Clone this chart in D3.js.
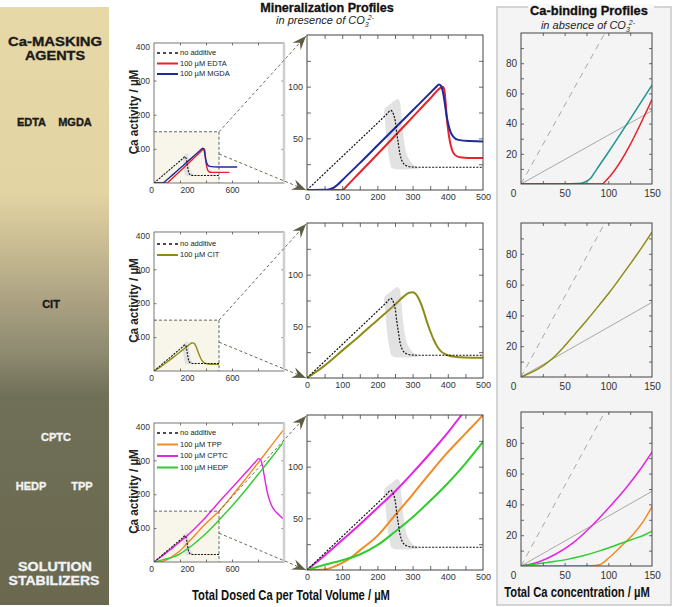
<!DOCTYPE html>
<html><head><meta charset="utf-8">
<script src="https://cdn.jsdelivr.net/npm/d3@7"></script>
<style>body{margin:0;background:#fff;} svg{display:block;font-family:"Liberation Sans",Arial,sans-serif;}</style>
</head><body><svg id="c" width="673" height="607"></svg>
<script>
// ---------- DATA ----------
// Mineralization profiles: [total dosed Ca (µM), Ca activity (µM)]
const noAdditive = [[0,0],[60,19.4],[120,38.8],[180,58.2],[225,72.8],[238,77],[246,73],[251,66],[255,55],[259,46],[264,35],[270,28],[280,24],[295,22.3],[320,22],[500,22]];
const noAdditiveBand = [[220,78],[240,84],[257,88],[263,86],[268,73],[274,52],[283,35],[295,27],[312,22],[318,21],[242,21],[237,25],[230,38],[226,50],[222,66]];
const edta = [[0,0],[95,0],[103,0.4],[110,2.8],[150,17],[200,34.6],[250,52.5],[300,70.5],[350,88.5],[380,99],[386,100],[390,97],[394,84],[397,70],[401,58],[406,47],[412,39],[420,34],[435,31.6],[460,31],[500,31],[580,31]];
const mgda = [[0,0],[50,0.2],[65,0.8],[75,2],[85,4.5],[100,9.5],[150,26],[200,43],[250,60],[300,77],[350,94],[366,99.5],[375,102],[381,100.5],[386,95],[391,85],[396,73],[402,63],[408,56],[416,51.5],[430,48.5],[460,47.3],[500,47],[640,47]];
const cit = [[0,0],[50,12],[100,26.5],[150,41],[200,56],[250,71],[275,79],[290,82.5],[300,83],[310,81],[320,75],[331,65],[340,55],[350,45.5],[360,37],[370,30.5],[380,26],[390,23.5],[400,22],[420,20.5],[450,19.8],[500,19.5]];
const tpp = [[0,0],[50,0.5],[75,3],[100,7],[125,12],[150,19],[200,33],[250,53],[300,73],[350,94],[400,114],[450,132],[500,150],[600,195],[700,243],[800,292],[900,342],[1000,392]];
const cptc = [[0,0],[50,14],[100,29],[150,44],[200,60],[250,76],[300,94],[350,113],[400,133],[450,155],[500,177],[600,219],[700,261],[780,295],[805,305],[820,302],[835,282],[850,250],[870,208],[900,170],[950,143],[1000,126]];
const hedp = [[0,0],[50,5],[100,9.5],[150,15],[200,24],[250,37],[300,51],[350,67],[400,84],[450,103],[500,124],[600,165],[700,210],[800,258],[900,306],[1000,356]];
// Ca-binding profiles: [total Ca (µM), free Ca (µM)]
const bindRef = [[0,0],[96,100]];
const bindLin = [[0,0],[150,48.5]];
const bindEDTA = [[0,0],[93,0],[96,1.5],[150,56]];
const bindMGDA = [[0,0],[50,0],[65,0.3],[72,1],[77,2.5],[80,4],[83,6.5],[87,10],[100,21],[125,43],[150,65.5]];
const bindCIT = [[0,0],[10,2.5],[26,7.6],[35,11.5],[49,19.5],[62,28],[75.6,37],[90,47],[102,55.5],[115,65.5],[129,76.5],[140,85.5],[150,94]];
const bindCPTC = [[0,0],[20,2.6],[40,7.8],[60,15.2],[80,25.5],[100,37.5],[120,50.5],[135,61.5],[150,74]];
const bindTPP = [[0,0],[75,0],[85,0.3],[91,1],[95,2.5],[98,4],[105,7.5],[114,12.4],[129,21],[140,29],[150,38.5]];
const bindHEDP = [[0,0],[20,1.5],[34,2.6],[53,4.3],[70,6.5],[91,10],[114,14.6],[130,17.8],[140,19.8],[150,22.6]];
// Legends
const legendRow1 = ["no additive","100 µM EDTA","100 µM MGDA"];
const legendRow2 = ["no additive","100 µM CIT"];
const legendRow3 = ["no additive","100 µM TPP","100 µM CPTC","100 µM HEDP"];
// Ticks
const smallXTicks = [0,200,600];
const smallYTicks = [100,200,300,400];
const midXTicks = [0,100,200,300,400,500];
const midYTicks = [50,100];
const rightXTicks = [0,50,100,150];
const rightYTicks = [20,40,60,80];
// Side labels
const groupTop = ["Ca-MASKING","AGENTS"];
const groupBottom = ["SOLUTION","STABILIZERS"];

// ---------- STYLES ----------
const C = {none:"#111", edta:"#e8222a", mgda:"#1c2a9c", mgdaBind:"#1f9593", cit:"#8e8c16", tpp:"#f28a24", cptc:"#e424e4", hedp:"#2fcc2f", ref:"#a8a8a8"};
const svg = d3.select("#c");
const defs = svg.append("defs");

const grad = defs.append("linearGradient").attr("id","side").attr("x1",0).attr("y1",0).attr("x2",0).attr("y2",1);
[[0,"#e7d8a8"],[0.31,"#e3d4a3"],[0.40,"#c9bc93"],[0.50,"#a89f80"],[0.58,"#8d8a70"],[0.65,"#706f57"],[1,"#6a6950"]]
  .forEach(([o,c])=>grad.append("stop").attr("offset",o).attr("stop-color",c));
svg.append("rect").attr("x",0).attr("y",7).attr("width",109).attr("height",598).attr("fill","url(#side)");

function sText(x,y,t,size,sx,opts){
  opts = opts||{};
  const e = svg.append("text").attr("transform",`translate(${x},${y})${opts.rot?" rotate(-90)":""} scale(${sx},1)`)
    .attr("text-anchor","middle").attr("font-size",size).attr("font-weight","bold")
    .attr("fill",opts.fill||"#111").text(t);
  if(opts.stroke) e.attr("stroke",opts.fill||"#111").attr("stroke-width",opts.stroke);
  return e;
}
function sideText(t,x,y,size,fill,sx){
  sText(x,y,t,size,sx||1,{fill,stroke:0.35});
}
sideText(groupTop[0],55,46,13.5,"#1a1a1a",1.1);
sideText(groupTop[1],55,60,13.5,"#1a1a1a",1.07);
sideText("EDTA",31.5,126,11,"#1a1a1a");
sideText("MGDA",75,126,11,"#1a1a1a");
sideText("CIT",51,308,11,"#1a1a1a");
sideText("CPTC",56,441,11,"#f2f2f2");
sideText("HEDP",31,490,11,"#f2f2f2");
sideText("TPP",82,490,11,"#f2f2f2");
sideText(groupBottom[0],55,571,13,"#f2f2f2",1.1);
sideText(groupBottom[1],54,585,13,"#f2f2f2",1.08);

svg.append("rect").attr("x",497).attr("y",7).attr("width",174).attr("height",598)
  .attr("fill","#f4f4f4").attr("stroke","#c8c8c8").attr("stroke-width",1.5);
svg.append("rect").attr("x",528).attr("y",4).attr("width",126).attr("height",5).attr("fill","#f8f8f8");

defs.append("marker").attr("id","arr").attr("viewBox","-14 -6 15 12").attr("refX",0).attr("refY",0)
  .attr("markerWidth",15).attr("markerHeight",12).attr("markerUnits","userSpaceOnUse").attr("orient","auto")
  .append("path").attr("d","M0,0 L-14,-5.5 L-9,0 L-14,5.5 Z").attr("fill","#5d5d45");

let clipN=0;
function panel(o){
  const x = d3.scaleLinear().domain(o.xd).range([o.x0,o.x1]);
  const y = d3.scaleLinear().domain(o.yd).range([o.y1,o.y0]);
  const g = svg.append("g");
  const id = "clip"+(clipN++);
  defs.append("clipPath").attr("id",id).append("rect").attr("x",o.x0).attr("y",o.y0).attr("width",o.x1-o.x0).attr("height",o.y1-o.y0);
  const plot = g.append("g").attr("clip-path",`url(#${id})`);
  return {g,x,y,plot,o};
}
function line(p,data,stroke,width,dash){
  const gen = d3.line().x(d=>p.x(d[0])).y(d=>p.y(d[1])).curve(d3.curveMonotoneX);
  const e = p.plot.append("path").datum(data).attr("d",gen).attr("fill","none").attr("stroke",stroke)
    .attr("stroke-width",width).attr("stroke-linejoin","round");
  if(dash) e.attr("stroke-dasharray",dash);
}
function band(p){
  const gen = d3.line().x(d=>p.x(d[0])).y(d=>p.y(d[1])).curve(d3.curveCatmullRomClosed.alpha(0.5));
  p.plot.append("path").datum(noAdditiveBand).attr("d",gen).attr("fill","#e2e2e2");
}
function frame(p,ticksX,ticksY,minorX,minorY,fs,pad,stroke){
  const o=p.o, g=p.g;
  const tk = (axis,tr,vals,len)=>{ const a=g.append("g").attr("transform",tr)
      .call(axis.tickValues(vals).tickSize(-len).tickFormat(""));
      a.select(".domain").remove(); a.selectAll("line").attr("stroke",stroke).attr("stroke-width",0.8); };
  tk(d3.axisBottom(p.x),`translate(0,${o.y1})`,minorX,o.tl);
  tk(d3.axisTop(p.x),`translate(0,${o.y0})`,minorX,o.tl);
  tk(d3.axisLeft(p.y),`translate(${o.x0},0)`,minorY,o.tl);
  tk(d3.axisRight(p.y),`translate(${o.x1},0)`,minorY,o.tl);
  g.append("rect").attr("x",o.x0).attr("y",o.y0).attr("width",o.x1-o.x0).attr("height",o.y1-o.y0)
    .attr("fill","none").attr("stroke",stroke).attr("stroke-width",o.fw||1);
  const ax = g.append("g").attr("transform",`translate(0,${o.y1})`).call(d3.axisBottom(p.x).tickValues(ticksX).tickSize(0).tickPadding(pad));
  ax.select(".domain").remove();
  ax.selectAll("text").attr("font-size",fs).attr("fill","#333").attr("font-family","Liberation Sans, Arial, sans-serif");
  const ay = g.append("g").attr("transform",`translate(${o.x0},0)`).call(d3.axisLeft(p.y).tickValues(ticksY).tickSize(0).tickPadding(o.ypad||4));
  ay.select(".domain").remove();
  ay.selectAll("text").attr("font-size",fs).attr("fill","#333").attr("font-family","Liberation Sans, Arial, sans-serif");
  return {ax,ay};
}
function legend(labels,colors,x,y,step){
  labels.forEach((t,i)=>{
    const yy=y+i*step;
    const l=svg.append("line").attr("x1",x).attr("x2",x+21).attr("y1",yy).attr("y2",yy).attr("stroke",colors[i]).attr("stroke-width",i===0?1.6:2);
    if(i===0) l.attr("stroke-dasharray","3,3");
    svg.append("text").attr("x",x+23).attr("y",yy).attr("dy","0.33em").attr("font-size",7.5).attr("fill","#222").text(t);
  });
}
function zoomBox(p){
  const x0=p.x(0),x1=p.x(500),y0=p.y(150),y1=p.y(0);
  p.plot.append("rect").attr("x",x0).attr("y",y0).attr("width",x1-x0).attr("height",y1-y0).attr("fill","#f8f6eb");
  return ()=>p.g.append("path").attr("d",`M${x0},${y0}H${x1}V${y1}`).attr("fill","none").attr("stroke","#555").attr("stroke-width",0.9).attr("stroke-dasharray","3,2");
}
function arrow(x1,y1,x2,y2){
  svg.append("line").attr("x1",x1).attr("y1",y1).attr("x2",x2).attr("y2",y2).attr("stroke","#6a6a58")
    .attr("stroke-width",1).attr("stroke-dasharray","3,2.5").attr("marker-end","url(#arr)");
}

const rowsSmall = [[43,183],[232,371],[423,562]];
const rowsMid = [[35,190],[223,378],[415,570]];
const rowsRight = [[33,184],[223,377],[412,566]];
const seriesMid = [
  [[edta,C.edta],[mgda,C.mgda]],
  [[cit,C.cit]],
  [[tpp,C.tpp],[cptc,C.cptc],[hedp,C.hedp]]
];
const seriesBind = [
  [[bindMGDA,C.mgdaBind],[bindEDTA,C.edta]],
  [[bindCIT,C.cit]],
  [[bindCPTC,C.cptc],[bindTPP,C.tpp],[bindHEDP,C.hedp]]
];
const legends = [[legendRow1,[C.none,C.edta,C.mgda],53,10.5],[legendRow2,[C.none,C.cit],244,11],[legendRow3,[C.none,C.tpp,C.cptc,C.hedp],433,11.5]];

for(let r=0;r<3;r++){
  const ps = panel({x0:154,x1:284,y0:rowsSmall[r][0],y1:rowsSmall[r][1],xd:[0,1000],yd:[0,410],tl:2.5,fw:0.8});
  const dz = zoomBox(ps);
  band(ps);
  seriesMid[r].forEach(([d,c])=>line(ps,d,c,1.4));
  line(ps,noAdditive,C.none,1.1,"2,1.2");
  dz();
  const fs = frame(ps,smallXTicks,smallYTicks,[200,400,600,800],[100,200,300],8.5,4,"#555");
  fs.ax.selectAll("text").attr("dx",d=>d===0?-3:(d===200?7:0));
  ps.g.append("line").attr("x1",284).attr("x2",284).attr("y1",rowsSmall[r][0]).attr("y2",rowsSmall[r][1]).attr("stroke","#cfcfcf").attr("stroke-width",2.5);
  legend(...legends[r].slice(0,2),157,legends[r][2],legends[r][3]);
  sText(138,(rowsSmall[r][0]+rowsSmall[r][1])/2-1,"Ca activity / µM",13,0.9,{rot:true,fill:"#222"});

  const pm = panel({x0:307,x1:483,y0:rowsMid[r][0],y1:rowsMid[r][1],xd:[0,500],yd:[0,150],tl:4,fw:1});
  band(pm);
  seriesMid[r].forEach(([d,c])=>line(pm,d,c,2));
  line(pm,noAdditive,C.none,1.2,"2,1.4");
  frame(pm,midXTicks,midYTicks,d3.range(50,500,50),d3.range(25,150,25),9,4,"#444");

  arrow(ps.x(500),ps.y(150),306,rowsMid[r][0]+1);
  arrow(ps.x(500),ps.y(85),306,rowsMid[r][1]);

  const pr = panel({x0:521,x1:652,y0:rowsRight[r][0],y1:rowsRight[r][1],xd:[0,150],yd:[0,100],tl:3,fw:1});
  line(pr,bindRef,C.ref,1,"6,5");
  line(pr,bindLin,C.ref,1);
  seriesBind[r].forEach(([d,c])=>line(pr,d,c,1.5));
  const fr = frame(pr,rightXTicks,rightYTicks,[25,50,75,100,125],[10,20,30,40,50,60,70,80,90],10,6,"#444");
  fr.ax.selectAll("text").attr("dx",d=>d===0?-8:0);
}

function subtitle(x,y,txt){
  const t = svg.append("text").attr("x",x).attr("y",y).attr("text-anchor","middle").attr("font-size",11).attr("font-style","italic").attr("fill","#222");
  t.append("tspan").text(txt);
  t.append("tspan").attr("font-size",7).attr("dy",3).text("3");
  t.append("tspan").attr("font-size",7).attr("dy",-7).attr("dx",-1).text("2-");
}
sText(327,12,"Mineralization Profiles",13,0.97,{stroke:0.3});
subtitle(325,24,"in presence of CO");
sText(589,15,"Ca-binding Profiles",13,0.99,{stroke:0.3});
subtitle(588,29,"in absence of CO");

sText(291,600,"Total Dosed Ca  per Total Volume / µM",14,0.8);
sText(577,597,"Total Ca concentration / µM",14,0.8);
</script></body></html>
